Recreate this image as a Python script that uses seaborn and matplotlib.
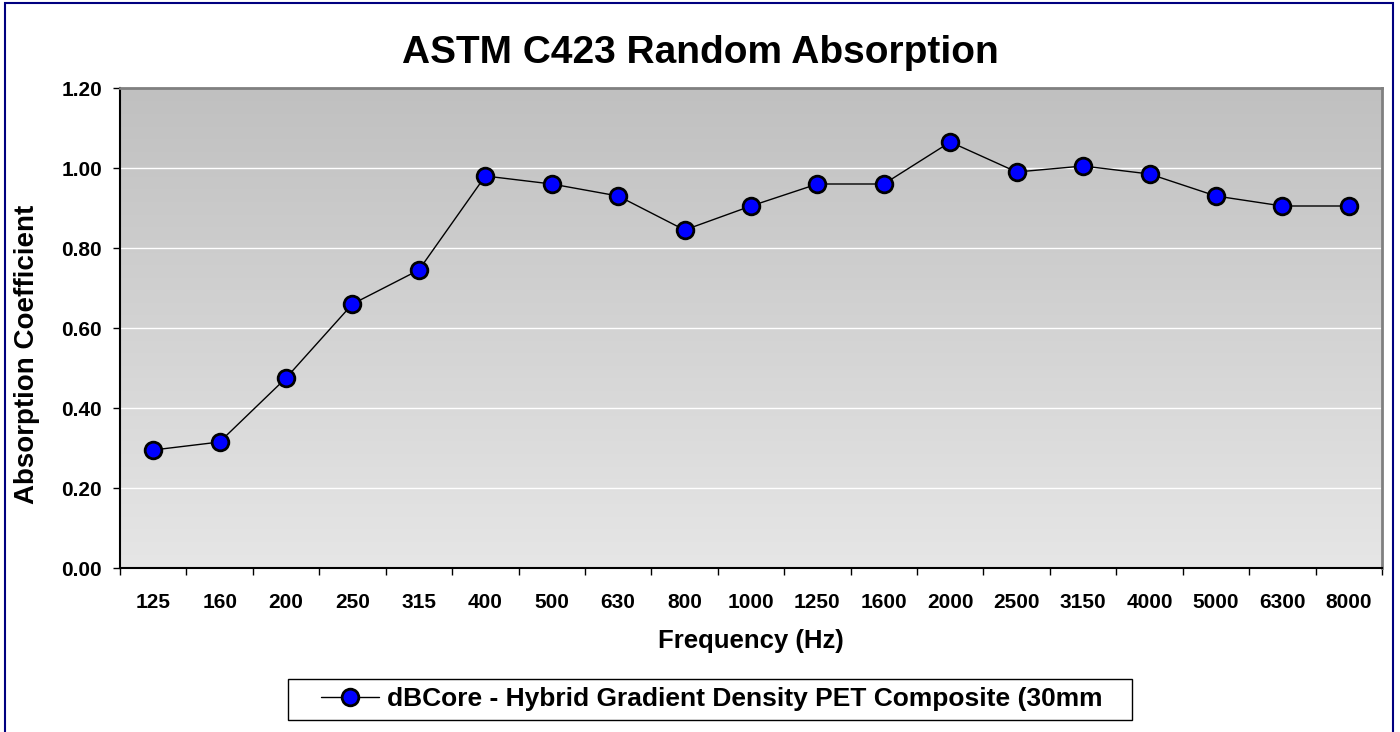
import numpy as np
import pandas as pd
import matplotlib
matplotlib.use("Agg")
import matplotlib.pyplot as plt
import seaborn as sns
from matplotlib.patches import Rectangle

# data
freq_labels = ['125', '160', '200', '250', '315', '400', '500', '630', '800', '1000',
               '1250', '1600', '2000', '2500', '3150', '4000', '5000', '6300', '8000']
absorption = [0.295, 0.315, 0.475, 0.66, 0.745, 0.98, 0.96, 0.93, 0.845, 0.905,
              0.96, 0.96, 1.065, 0.99, 1.005, 0.985, 0.93, 0.905, 0.905]
series_name = 'dBCore - Hybrid Gradient Density PET Composite (30mm'
y_ticks = [0.0, 0.2, 0.4, 0.6, 0.8, 1.0, 1.2]

df = pd.DataFrame({'Frequency': freq_labels, 'Absorption': absorption})

sns.set_theme(style="white")
plt.rcParams['font.family'] = ['Liberation Sans', 'DejaVu Sans']
plt.rcParams['text.color'] = 'black'
plt.rcParams['axes.labelcolor'] = 'black'
plt.rcParams['xtick.color'] = 'black'
plt.rcParams['ytick.color'] = 'black'

W, H = 1400, 732
fig = plt.figure(figsize=(14, 7.32), dpi=100)
ax = fig.add_axes([120 / W, 1 - 568 / H, 1262 / W, 480 / H])

# gradient plot background
grad = np.linspace(0, 1, 256).reshape(-1, 1)
cmap = matplotlib.colors.LinearSegmentedColormap.from_list('bg', ['#e6e6e6', '#c0c0c0'])
ax.imshow(grad, aspect='auto', cmap=cmap, origin='lower',
          extent=[0, 1, 0, 1], transform=ax.transAxes, zorder=0)

for yv in y_ticks[1:-1]:
    ax.axhline(yv, color='white', lw=1, zorder=1)

sns.lineplot(data=df, x='Frequency', y='Absorption', sort=False, ax=ax,
             color='black', lw=1, marker='o', markersize=12,
             markerfacecolor='#0000ff', markeredgecolor='black', markeredgewidth=2,
             label=series_name, zorder=3)

ax.set_xlim(-0.5, len(freq_labels) - 0.5)
ax.set_ylim(0, 1.2)
ax.set_yticks(y_ticks)
ax.set_yticklabels([f'{v:.2f}' for v in y_ticks], fontsize=15, fontweight='bold')
ax.set_xticks(range(len(freq_labels)))
ax.set_xticklabels(freq_labels, fontsize=15, fontweight='bold')
ax.set_xticks(np.arange(-0.5, len(freq_labels)), minor=True)
ax.tick_params(axis='x', which='major', length=0, pad=18)
ax.tick_params(axis='x', which='minor', length=5, width=1, color='black', direction='out', bottom=True)
ax.tick_params(axis='y', length=5, width=1, color='black', direction='out', left=True, pad=8)

for side in ['top', 'right']:
    ax.spines[side].set_color('#808080')
    ax.spines[side].set_linewidth(2)
for side in ['left', 'bottom']:
    ax.spines[side].set_color('black')
    ax.spines[side].set_linewidth(1.5)

ax.set_xlabel('Frequency (Hz)', fontsize=18.5, fontweight='bold', va='center')
ax.xaxis.set_label_coords(0.5, (568 - 641) / 480)
ax.set_ylabel('Absorption Coefficient', fontsize=20, fontweight='bold', va='center')
ax.yaxis.set_label_coords((27 - 120) / 1262, (568 - 354) / 480)
fig.text(700 / W, 1 - 53 / H, 'ASTM C423 Random Absorption', fontsize=28,
         fontweight='bold', ha='center', va='center')

# legend with a hand-drawn box like the original
leg = ax.legend(loc='center', bbox_to_anchor=(712 / W, 1 - 699 / H), bbox_transform=fig.transFigure,
                frameon=False, prop={'size': 19, 'weight': 'bold'}, handlelength=2.2,
                handletextpad=0.3, borderpad=0.2, markerscale=1.0)
fig.patches.append(Rectangle((288 / W, 1 - 720 / H), 844 / W, 41 / H, transform=fig.transFigure,
                             fill=False, edgecolor='black', lw=1))

# outer chart border
fig.patches.append(Rectangle((5 / W, -0.01), 1388 / W, 1.01 - 3 / H, transform=fig.transFigure,
                             fill=False, edgecolor='#000080', lw=1.5))

fig.savefig('out.png', dpi=100)
